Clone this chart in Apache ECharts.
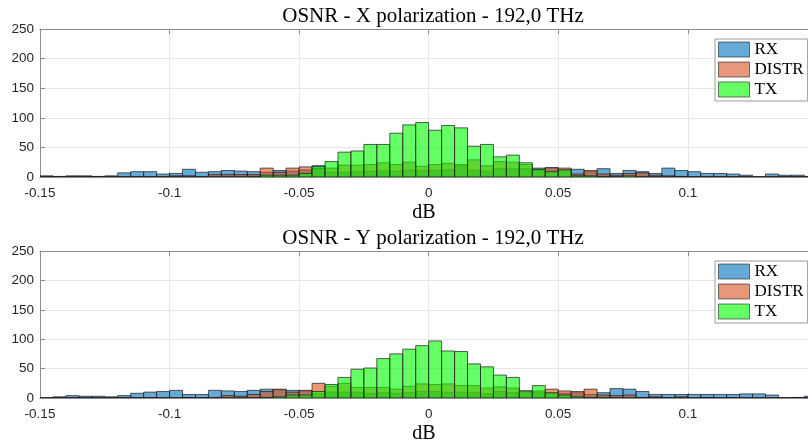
<!DOCTYPE html>
<html>
<head>
<meta charset="utf-8">
<script src="https://cdn.jsdelivr.net/npm/echarts@6/dist/echarts.min.js"></script>
<style>html,body{margin:0;padding:0;background:#fff}#c{width:808px;height:445px}</style>
</head>
<body>
<div id="c"></div>
<script>
// Histogram bins (dB): first edge and width, 60 bins from -0.15
const binStart = -0.15;
const binWidth = 0.005;

const seriesNames = ['RX', 'DISTR', 'TX'];
const xTicks = ['-0.15', '-0.1', '-0.05', '0', '0.05', '0.1'];
const yTicks = ['0', '50', '100', '150', '200', '250'];

const titles = ['OSNR - X polarization - 192,0 THz', 'OSNR - Y polarization - 192,0 THz'];
const xLabel = 'dB';

// X polarization counts
const X_RX    = [2,1,2,2,1,2,7,9,9,5, 6,13,8,9,11,10,9,8,11,10, 12,19,8,8,9,10,10,10,12,11, 11,12,19,11,10,14,14,14,15,15, 12,13,9,14,6,11,9,6,15,11, 9,6,6,5,3,0,5,3,3,1];
const X_DISTR = [0,0,0,0,0,0,0,0,0,0, 2,2,0,4,4,4,4,15,8,15, 17,14,15,20,20,21,24,21,25,18, 21,23,21,29,19,26,25,21,12,16, 15,5,11,5,3,6,7,3,2,1, 0,0,0,0,0,0,0,0,0,0];
const X_TX    = [0,0,0,0,0,0,0,0,0,0, 0,0,0,0,0,0,1,3,3,3, 6,18,26,42,44,55,55,74,88,92, 79,87,83,52,55,34,37,24,13,9, 12,2,2,1,0,2,0,0,0,0, 0,0,0,0,0,0,0,0,0,0];

// Y polarization counts
const Y_RX    = [0,2,4,3,3,2,4,8,10,11, 13,6,6,13,12,11,13,15,14,13, 12,7,10,10,10,8,9,8,9,11, 11,9,10,9,7,11,9,10,9,8, 8,9,6,9,16,15,11,6,6,6, 6,6,6,6,7,7,5,0,1,3];
const Y_DISTR = [0,0,0,0,0,0,0,0,0,0, 0,1,0,1,4,3,6,11,15,10, 13,25,20,25,18,18,18,15,20,24, 23,24,21,21,17,19,17,12,12,15, 12,11,15,5,4,5,1,2,0,2, 0,1,0,0,0,0,0,0,0,0];
const Y_TX    = [0,0,0,0,0,0,0,0,0,0, 0,0,0,0,0,0,0,1,2,5, 5,11,23,35,49,51,67,75,83,89, 97,80,79,58,53,39,35,12,21,9, 5,2,0,1,0,0,0,0,0,0, 0,0,0,0,0,0,0,0,0,0];

const fills = {RX: 'rgba(0,114,189,0.6)', DISTR: 'rgba(217,83,25,0.6)', TX: 'rgba(0,255,0,0.6)'};
const legendFills = {RX: '#66AAD7', DISTR: '#E8987A', TX: '#66FF66'};
const edge = 'rgba(30,30,30,0.72)';
const serif = 'Liberation Serif';
const sans = 'Liberation Sans';

function rows(vals) {
  return vals.map((v, i) => {
    const x0 = +(binStart + i * binWidth).toFixed(4);
    return [x0, +(x0 + binWidth).toFixed(4), v];
  });
}
function makeRender(color) {
  return function (params, api) {
    const p0 = api.coord([api.value(0), api.value(2)]);
    const p1 = api.coord([api.value(1), 0]);
    return {type: 'rect', shape: {x: p0[0], y: p0[1], width: p1[0] - p0[0], height: p1[1] - p0[1]},
      style: {fill: color, stroke: edge, lineWidth: 1}};
  };
}

const gridTops = [29, 251];
const gridH = 148;
const xMin = -0.15, xMax = 0.1464; // plot box is cut by the figure's right edge
const axisGrey = '#8c8c8c';
const xFmt = v => { const s = xTicks.find(t => Math.abs(parseFloat(t) - v) < 1e-9); return s === undefined ? '' : s; };

const option = {animation: false, title: [], grid: [], xAxis: [], yAxis: [], legend: [], series: []};
const data = [[X_RX, X_DISTR, X_TX], [Y_RX, Y_DISTR, Y_TX]];

[0, 1].forEach(g => {
  option.title.push({text: titles[g], left: 428, top: gridTops[g] - 28, textAlign: 'center',
    textStyle: {fontFamily: serif, fontSize: 21, fontWeight: 'normal', color: '#000'}});
  option.grid.push({left: 40, top: gridTops[g], right: 0, height: gridH});
  option.xAxis.push({type: 'value', gridIndex: g, min: xMin, max: xMax, interval: 0.05,
    name: xLabel, nameLocation: 'middle', nameGap: 26,
    nameTextStyle: {fontFamily: serif, fontSize: 20, color: '#000'},
    axisLine: {show: true, onZero: false, lineStyle: {color: axisGrey}},
    axisTick: {show: true, inside: true, length: 5, lineStyle: {color: axisGrey}},
    axisLabel: {formatter: xFmt, showMaxLabel: false, margin: 9, fontFamily: sans, fontSize: 13.5, color: '#262626'},
    splitLine: {show: true, lineStyle: {color: '#e6e6e6'}}});
  option.xAxis.push({type: 'value', gridIndex: g, position: 'top', min: xMin, max: xMax, interval: 0.05,
    axisLine: {show: true, onZero: false, lineStyle: {color: axisGrey}},
    axisTick: {show: true, inside: true, length: 5, lineStyle: {color: axisGrey}},
    axisLabel: {show: false}, splitLine: {show: false}});
  option.yAxis.push({type: 'value', gridIndex: g, min: 0, max: 250, interval: 50,
    axisLine: {show: true, onZero: false, lineStyle: {color: axisGrey}},
    axisTick: {show: true, inside: true, length: 5, lineStyle: {color: axisGrey}},
    axisLabel: {formatter: v => yTicks[Math.round(v / 50)], margin: 6, fontFamily: sans, fontSize: 13.5, color: '#262626'},
    splitLine: {show: true, lineStyle: {color: '#e6e6e6'}}});
  seriesNames.forEach((name, k) => {
    option.series.push({type: 'custom', name: name, xAxisIndex: g * 2, yAxisIndex: g,
      clip: true, renderItem: makeRender(fills[name]), encode: {x: [0, 1], y: 2},
      itemStyle: {color: legendFills[name]}, data: rows(data[g][k])});
  });
  option.legend.push({orient: 'vertical', left: 715, top: gridTops[g] + 10, itemWidth: 31, itemHeight: 15, itemGap: 3,
    padding: [2, 4, 3, 3], borderColor: '#999', borderWidth: 1, backgroundColor: '#fff', borderRadius: 0,
    icon: 'rect', selectedMode: false,
    textStyle: {fontFamily: serif, fontSize: 17, color: '#000', lineHeight: 15},
    data: seriesNames.map(n => ({name: n, itemStyle: {color: legendFills[n], borderColor: 'rgba(30,30,30,0.6)', borderWidth: 1}}))});
});

const chart = echarts.init(document.getElementById('c'), null, {renderer: 'canvas'});
chart.setOption(option);
</script>
</body>
</html>
